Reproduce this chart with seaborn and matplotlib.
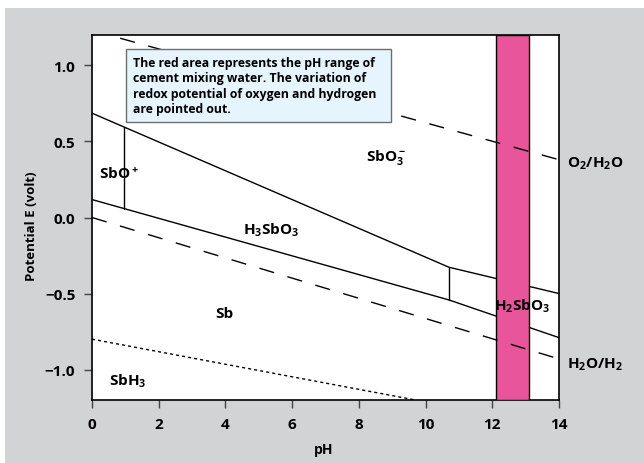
import matplotlib
matplotlib.use("Agg")
import matplotlib.pyplot as plt
import seaborn as sns
import pandas as pd
from matplotlib.patches import Rectangle

# ---- data ----
ph_upper = [0, 10.7, 14]
e_upper = [0.686, -0.327, -0.50]
ph_lower = [0, 10.7, 14]
e_lower = [0.118, -0.542, -0.79]
ph_v1 = [0.96, 0.96]
e_v1 = [0.059, 0.595]
ph_v2 = [10.7, 10.7]
e_v2 = [-0.542, -0.327]
ph_o2 = [0, 14]
e_o2 = [1.23, 0.38]
ph_h2 = [0, 14]
e_h2 = [0.0, -0.93]
ph_sbh3 = [0, 9.7]
e_sbh3 = [-0.80, -1.2]
band_ph = [12.1, 13.1]

species = ["SbO$^+$", "SbO$_3^-$", "H$_3$SbO$_3$", "Sb", "SbH$_3$", "H$_2$SbO$_3$"]
species_ph = [0.82, 8.81, 5.37, 3.96, 1.08, 12.89]
species_e = [0.29, 0.40, -0.08, -0.63, -1.07, -0.58]
couple_labels = ["O$_2$/H$_2$O", "H$_2$O/H$_2$"]
couple_e = [0.36, -0.96]
x_ticks = [0, 2, 4, 6, 8, 10, 12, 14]
y_ticks = [1.0, 0.5, 0.0, -0.5, -1.0]
note = ("The red area represents the pH range of\n"
        "cement mixing water. The variation of\n"
        "redox potential of oxygen and hydrogen\n"
        "are pointed out.")

sns.set_theme(style="white")
plt.rcParams["font.family"] = ["Open Sans", "DejaVu Sans"]
plt.rcParams["font.weight"] = "bold"
plt.rcParams["mathtext.fontset"] = "custom"
plt.rcParams["mathtext.bf"] = "Open Sans:bold"
plt.rcParams["mathtext.rm"] = "Open Sans:bold"
plt.rcParams["mathtext.default"] = "bf"
plt.rcParams["text.color"] = "black"
plt.rcParams["xtick.labelcolor"] = "black"
plt.rcParams["ytick.labelcolor"] = "black"

fig = plt.figure(figsize=(6.44, 4.64), dpi=100)
fig.patch.set_facecolor("white")
fig.patches.append(Rectangle((5 / 644, 0), 1, 1 - 9 / 464, transform=fig.transFigure,
                             facecolor="#d1d3d4", edgecolor="none", zorder=-10))
ax = fig.add_axes([92 / 644, 1 - 401 / 464, 467 / 644, 365 / 464])
ax.set_facecolor("white")

def draw(xs, ys, **kw):
    df = pd.DataFrame({"pH": xs, "E": ys})
    sns.lineplot(data=df, x="pH", y="E", ax=ax, sort=False, estimator=None, color="black", **kw)

draw(ph_upper, e_upper, linewidth=1.0, zorder=2)
draw(ph_lower, e_lower, linewidth=1.0, zorder=2)
draw(ph_v1, e_v1, linewidth=1.0, zorder=2)
draw(ph_v2, e_v2, linewidth=1.0, zorder=2)
draw(ph_o2, e_o2, linewidth=1.0, dashes=(11, 10), zorder=4)
draw(ph_h2, e_h2, linewidth=1.0, dashes=(11, 10), zorder=4)
draw(ph_sbh3, e_sbh3, linewidth=1.0, dashes=(2.2, 2.2), zorder=2)

ax.axvspan(band_ph[0], band_ph[1], facecolor="#e8559b", edgecolor="black", linewidth=1.0, zorder=3)

for lab, x, y in zip(species, species_ph, species_e):
    ax.text(x, y, lab, ha="center", va="center", fontsize=11, fontweight="bold",
            color="black", zorder=5)
for lab, y in zip(couple_labels, couple_e):
    ax.text(14.24, y, lab, ha="left", va="center", fontsize=11, fontweight="bold",
            color="black", clip_on=False, zorder=5)

ax.add_patch(Rectangle((1.02, 0.627), 7.94, 0.484, facecolor="#e6f4fd", edgecolor="#6d6e71",
                       linewidth=1.0, zorder=6))
ax.text(1.23, 0.869, note, ha="left", va="center", fontsize=8.8, fontweight="bold",
        color="black", linespacing=1.25, zorder=7)

ax.set_xlim(0, 14)
ax.set_ylim(-1.2, 1.2)
ax.set_xticks(x_ticks)
ax.set_yticks(y_ticks)
ax.set_xticklabels([str(t) for t in x_ticks])
ax.set_yticklabels([f"{t:.1f}".replace("-", "\u2212") for t in y_ticks])
ax.tick_params(axis="both", direction="out", length=6, width=1.0, color="#444444",
               labelcolor="black", labelsize=11, pad=6, bottom=True, left=True)
for lbl in ax.get_xticklabels() + ax.get_yticklabels():
    lbl.set_fontweight("bold")
for sp in ax.spines.values():
    sp.set_color("black")
    sp.set_linewidth(1.2)
ax.set_xlabel("")
ax.set_ylabel("")
fig.text(324 / 644, 1 - 450 / 464, "pH", ha="center", va="center", fontsize=10,
         fontweight="bold", color="black")
fig.text(32 / 644, 1 - 226 / 464, "Potential E (volt)", ha="center", va="center",
         rotation=90, fontsize=9.5, fontweight="bold", color="black")

fig.savefig("out.png", dpi=100)
